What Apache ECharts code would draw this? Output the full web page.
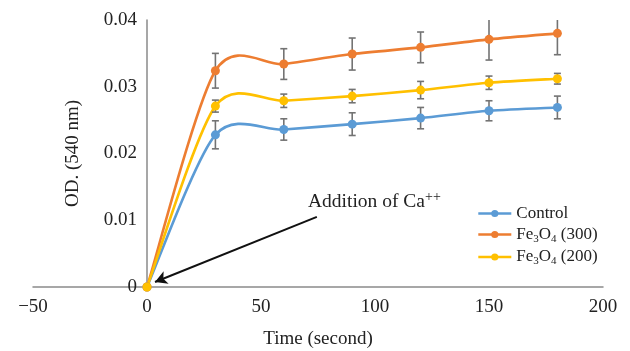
<!DOCTYPE html>
<html>
<head>
<meta charset="utf-8">
<script src="https://cdn.jsdelivr.net/npm/echarts@6/dist/echarts.min.js"></script>
<style>
  html, body { margin: 0; padding: 0; background: #fff; }
  #chart { width: 630px; height: 351px; }
</style>
</head>
<body>
<div id="chart"></div>
<script>
// Sampling times (s) and mean optical density at 540 nm with standard deviations
const times = [0, 30, 60, 90, 120, 150, 180];
const control = [0, 0.0228, 0.0236, 0.0244, 0.0253, 0.0264, 0.0269];
const fe300 = [0, 0.0324, 0.0334, 0.0349, 0.0359, 0.0371, 0.0380];
const fe200 = [0, 0.0271, 0.0279, 0.0286, 0.0295, 0.0306, 0.0312];
const controlErr = [0, 0.0021, 0.0016, 0.0017, 0.0016, 0.0015, 0.0017];
const fe300Err = [0, 0.0026, 0.0023, 0.0024, 0.0023, 0.0031, 0.0032];
const fe200Err = [0, 0.0009, 0.0010, 0.0010, 0.0013, 0.0010, 0.0008];

const xTicks = [-50, 0, 50, 100, 150, 200];
const yTicks = [0, 0.01, 0.02, 0.03, 0.04];

// Arrow marking when calcium was added: [time, OD] for tail and head
const arrowTail = [74.5, 0.0105];
const arrowHead = [3.5, 0.00075];

const FONT = 'Liberation Serif';
const TEXT = '#222';
const COLORS = { control: '#5b9bd5', fe300: '#ed7d31', fe200: '#ffc000' };
const ERR_COLOR = '#737373';
const LINE_W = 2.6;

const W = 630, GRID = { left: 33, right: 27, top: 20, bottom: 64 };
// shift the value axis so it sits on time = 0
const yAxisOffset = -(0 - xTicks[0]) / (xTicks[xTicks.length - 1] - xTicks[0]) * (W - GRID.left - GRID.right);

const chart = echarts.init(document.getElementById('chart'), null, { renderer: 'canvas' });

function pairs(ys) { return times.map((t, i) => [t, ys[i]]); }
function errData(ys, es) { return times.map((t, i) => [t, ys[i] - es[i], ys[i] + es[i]]).filter((d, i) => es[i] > 0); }

function errorSeries(name, ys, es) {
  return {
    type: 'custom',
    name: name + ' err',
    data: errData(ys, es),
    clip: true,
    z: 3,
    silent: true,
    encode: { x: 0, y: [1, 2] },
    renderItem: function (params, api) {
      const lo = api.coord([api.value(0), api.value(1)]);
      const hi = api.coord([api.value(0), api.value(2)]);
      const cap = 3.5;
      const style = { stroke: ERR_COLOR, lineWidth: 1.6 };
      return {
        type: 'group',
        children: [
          { type: 'line', shape: { x1: lo[0], y1: lo[1], x2: hi[0], y2: hi[1] }, style: style },
          { type: 'line', shape: { x1: lo[0] - cap, y1: lo[1], x2: lo[0] + cap, y2: lo[1] }, style: style },
          { type: 'line', shape: { x1: hi[0] - cap, y1: hi[1], x2: hi[0] + cap, y2: hi[1] }, style: style }
        ]
      };
    }
  };
}

// Smoothed connecting curve: one cubic Bezier per segment, cardinal-spline tangents
function curveSeries(name, ys, color) {
  const pts = pairs(ys);
  const last = pts.length - 1;
  return {
    type: 'custom',
    name: name + ' curve',
    data: pts,
    clip: true,
    z: 2,
    silent: true,
    encode: { x: 0, y: 1 },
    renderItem: function (params, api) {
      const i = params.dataIndex;
      if (i >= last) return null;
      const p0 = api.coord(pts[Math.max(i - 1, 0)]);
      const p1 = api.coord(pts[i]);
      const p2 = api.coord(pts[i + 1]);
      const p3 = api.coord(pts[Math.min(i + 2, last)]);
      const k = 0.14;
      return {
        type: 'bezierCurve',
        shape: {
          x1: p1[0], y1: p1[1], x2: p2[0], y2: p2[1],
          cpx1: p1[0] + (p2[0] - p0[0]) * k, cpy1: p1[1] + (p2[1] - p0[1]) * k,
          cpx2: p2[0] - (p3[0] - p1[0]) * k, cpy2: p2[1] - (p3[1] - p1[1]) * k
        },
        style: { stroke: color, lineWidth: LINE_W, fill: null, lineCap: 'round' }
      };
    }
  };
}

function markerSeries(name, ys, color, extra) {
  return Object.assign({
    type: 'line',
    name: name,
    data: pairs(ys),
    symbol: 'circle',
    symbolSize: 9,
    z: 4,
    lineStyle: { color: color, width: LINE_W, opacity: 0 },
    itemStyle: { color: color },
    emphasis: { disabled: true }
  }, extra || {});
}

const legendRich = {
  n: { fontFamily: FONT, fontSize: 17, color: TEXT, lineHeight: 20 },
  s: { fontFamily: FONT, fontSize: 11, color: TEXT, lineHeight: 14, verticalAlign: 'bottom' }
};

function legendItem(name, color) {
  return { name: name, lineStyle: { color: color, width: LINE_W, opacity: 1 }, itemStyle: { color: color } };
}

const option = {
  animation: false,
  backgroundColor: '#fff',
  grid: Object.assign({ containLabel: false, outerBoundsMode: 'none' }, GRID),
  xAxis: {
    type: 'value',
    min: xTicks[0],
    max: xTicks[xTicks.length - 1],
    interval: 50,
    axisLine: { show: true, onZero: false, lineStyle: { color: '#8a8a8a', width: 1.5 } },
    axisTick: { show: false },
    splitLine: { show: false },
    axisLabel: {
      fontFamily: FONT, fontSize: 19, color: TEXT, margin: 11,
      formatter: v => v < 0 ? '\u2212' + Math.abs(v) : String(v)
    },
    name: 'Time (second)',
    nameLocation: 'middle',
    nameGap: 43,
    nameTextStyle: { fontFamily: FONT, fontSize: 19, color: TEXT }
  },
  yAxis: {
    type: 'value',
    min: yTicks[0],
    max: yTicks[yTicks.length - 1],
    interval: 0.01,
    offset: yAxisOffset,
    axisLine: { show: true, onZero: false, lineStyle: { color: '#8a8a8a', width: 1.5 } },
    axisTick: { show: false },
    splitLine: { show: false },
    axisLabel: {
      fontFamily: FONT, fontSize: 19, color: TEXT, margin: 10,
      formatter: v => v === 0 ? '0' : v.toFixed(2)
    },
    name: 'OD. (540 nm)',
    nameLocation: 'middle',
    nameGap: 64,
    nameTextStyle: { fontFamily: FONT, fontSize: 19, color: TEXT }
  },
  legend: {
    orient: 'vertical',
    left: 477,
    top: 205,
    padding: 0,
    itemWidth: 33,
    itemHeight: 9,
    itemGap: 4,
    data: [
      legendItem('Control', COLORS.control),
      legendItem('Fe3O4 (300)', COLORS.fe300),
      legendItem('Fe3O4 (200)', COLORS.fe200)
    ],
    textStyle: { rich: legendRich },
    formatter: function (name) {
      if (name === 'Control') return '{n|Control}';
      const m = name.match(/\((\d+)\)/);
      return '{n|Fe}{s|3}{n|O}{s|4}{n| (' + m[1] + ')}';
    }
  },
  graphic: [{
    type: 'text',
    left: 308,
    top: 190,
    silent: true,
    style: {
      text: '{n|Addition of Ca}{p|++}',
      rich: {
        n: { fontFamily: FONT, fontSize: 19.5, fill: TEXT, lineHeight: 24 },
        p: { fontFamily: FONT, fontSize: 14, fill: TEXT, lineHeight: 14, verticalAlign: 'top' }
      }
    }
  }],
  series: [
    errorSeries('Control', control, controlErr),
    errorSeries('Fe3O4 (300)', fe300, fe300Err),
    errorSeries('Fe3O4 (200)', fe200, fe200Err),
    curveSeries('Control', control, COLORS.control),
    curveSeries('Fe3O4 (300)', fe300, COLORS.fe300),
    curveSeries('Fe3O4 (200)', fe200, COLORS.fe200),
    markerSeries('Control', control, COLORS.control),
    markerSeries('Fe3O4 (300)', fe300, COLORS.fe300, {
      markLine: {
        silent: true,
        symbol: ['none', 'arrow'],
        symbolSize: [10, 12],
        label: { show: false },
        lineStyle: { color: '#111', width: 2, type: 'solid', opacity: 1 },
        data: [[{ coord: arrowTail }, { coord: arrowHead }]]
      }
    }),
    markerSeries('Fe3O4 (200)', fe200, COLORS.fe200)
  ]
};

chart.setOption(option);
</script>
</body>
</html>
